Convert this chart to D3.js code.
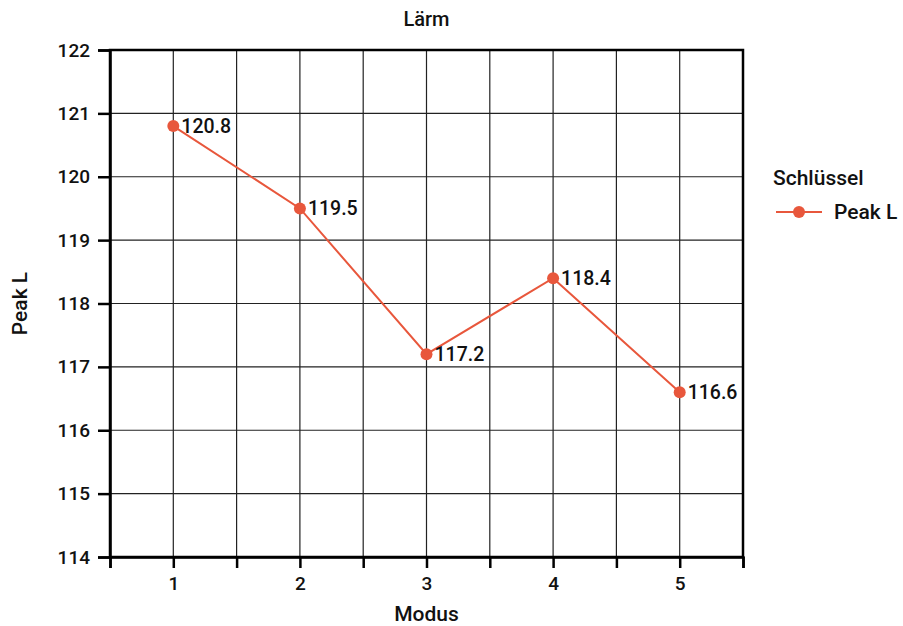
<!DOCTYPE html>
<html>
<head>
<meta charset="utf-8">
<script src="https://cdn.jsdelivr.net/npm/d3@7"></script>
<style>
  body { margin: 0; background: #fff; }
  text { font-family: Roboto, "Liberation Sans", Arial, sans-serif; font-weight: 500; fill: #111; }
</style>
</head>
<body>
<div id="chart"></div>
<script>
const modus = [1, 2, 3, 4, 5];
const peakL = [120.8, 119.5, 117.2, 118.4, 116.6];
const yTicks = [114, 115, 116, 117, 118, 119, 120, 121, 122];
const xTicks = [1, 2, 3, 4, 5];
const xMinor = [0.5, 1.5, 2.5, 3.5, 4.5, 5.5];

const width = 903, height = 626;
const margin = { top: 50, right: 160, bottom: 69, left: 110 };
const color = "#e8573c";
const font = "Roboto, 'Liberation Sans', Arial, sans-serif";

const svg = d3.select("#chart").append("svg")
  .attr("width", width).attr("height", height);

const x = d3.scaleLinear().domain([0.5, 5.5]).range([margin.left, width - margin.right]);
const y = d3.scaleLinear().domain([114, 122]).range([height - margin.bottom, margin.top]);

// grid
svg.append("g").selectAll("line").data(xTicks.concat(xMinor)).join("line")
  .attr("x1", d => x(d)).attr("x2", d => x(d))
  .attr("y1", y(114)).attr("y2", y(122))
  .attr("stroke", "#222").attr("stroke-width", 1.2);
svg.append("g").selectAll("line").data(yTicks).join("line")
  .attr("x1", x(0.5)).attr("x2", x(5.5))
  .attr("y1", d => y(d)).attr("y2", d => y(d))
  .attr("stroke", "#222").attr("stroke-width", 1.2);

// frame
svg.append("rect")
  .attr("x", x(0.5)).attr("y", y(122))
  .attr("width", x(5.5) - x(0.5)).attr("height", y(114) - y(122))
  .attr("fill", "none").attr("stroke", "#000").attr("stroke-width", 2.5);

// axes
const xAxis = svg.append("g")
  .attr("transform", `translate(0,${y(114)})`)
  .call(d3.axisBottom(x).tickValues(xTicks.concat(xMinor)).tickSize(11).tickPadding(9)
    .tickFormat(d => Number.isInteger(d) ? d : ""));
const yAxis = svg.append("g")
  .attr("transform", `translate(${x(0.5)},0)`)
  .call(d3.axisLeft(y).tickValues(yTicks).tickSize(12).tickPadding(8));
[xAxis, yAxis].forEach(g => {
  g.select(".domain").attr("stroke-width", 2.5);
  g.selectAll(".tick line").attr("stroke-width", 2.5);
  g.selectAll("text").attr("font-size", 19).attr("font-weight", 500)
    .attr("font-family", font).attr("fill", "#111");
});

// line + points
const line = d3.line().x((d, i) => x(modus[i])).y(d => y(d));
svg.append("path").datum(peakL)
  .attr("d", line).attr("fill", "none").attr("stroke", color).attr("stroke-width", 2);
svg.append("g").selectAll("circle").data(peakL).join("circle")
  .attr("cx", (d, i) => x(modus[i])).attr("cy", d => y(d)).attr("r", 6)
  .attr("fill", color);
svg.append("g").selectAll("text").data(peakL).join("text")
  .attr("x", (d, i) => x(modus[i]) + 8).attr("y", d => y(d))
  .attr("dy", "0.35em").attr("font-size", 19.5)
  .text(d => d.toFixed(1));

// titles
svg.append("text").attr("x", (x(0.5) + x(5.5)) / 2).attr("y", 26)
  .attr("text-anchor", "middle").attr("font-size", 20).text("Lärm");
svg.append("text").attr("x", (x(0.5) + x(5.5)) / 2).attr("y", 621)
  .attr("text-anchor", "middle").attr("font-size", 21).text("Modus");
svg.append("text")
  .attr("transform", `translate(27,${(y(114) + y(122)) / 2}) rotate(-90)`)
  .attr("text-anchor", "middle").attr("font-size", 21).text("Peak L");

// legend
const lg = svg.append("g").attr("transform", "translate(773,0)");
lg.append("text").attr("x", 0).attr("y", 185).attr("font-size", 21).text("Schlüssel");
lg.append("line").attr("x1", 3).attr("x2", 49).attr("y1", 212).attr("y2", 212)
  .attr("stroke", color).attr("stroke-width", 2);
lg.append("circle").attr("cx", 26).attr("cy", 212).attr("r", 6).attr("fill", color);
lg.append("text").attr("x", 61).attr("y", 212).attr("dy", "0.35em")
  .attr("font-size", 21).text("Peak L");
</script>
</body>
</html>
